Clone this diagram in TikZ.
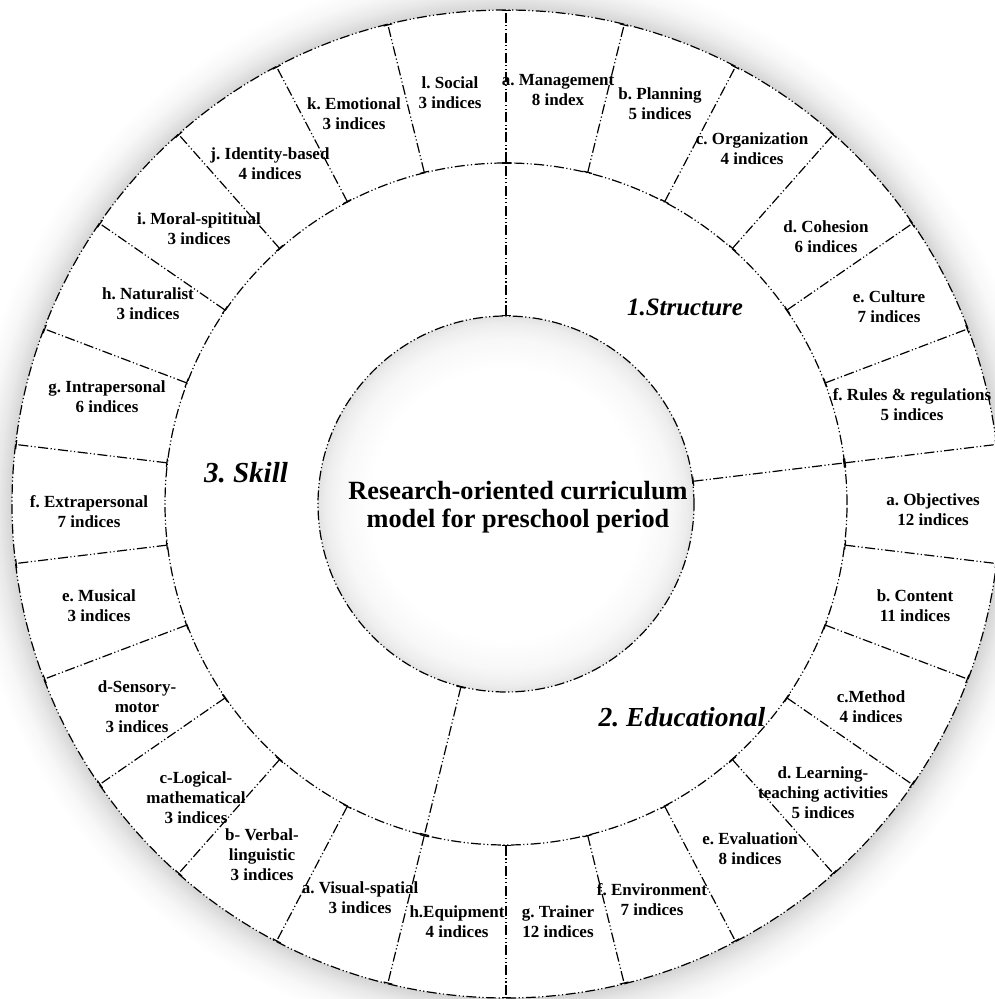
\documentclass[tikz,border=0pt]{standalone}
\usepackage{fontspec}
\setmainfont{Liberation Serif}
\usetikzlibrary{arrows.meta}
\pgfdeclareradialshading{outerglow}{\pgfpointorigin}{color(0bp)=(black!17); color(22.9bp)=(black!17); color(23.5bp)=(black!9); color(24.2bp)=(black!3); color(25bp)=(white); color(50bp)=(white)}
\pgfdeclareradialshading{innerglow}{\pgfpointorigin}{color(0bp)=(white); color(18bp)=(white); color(22bp)=(black!3); color(24bp)=(black!7); color(25bp)=(black!11); color(50bp)=(black!11)}
\begin{document}
\frenchspacing
\begin{tikzpicture}[x=1pt,y=1pt,
  ddd/.style={line width=1.2pt, dash pattern=on 10pt off 2.5pt on 1.2pt off 2.5pt on 1.2pt off 2.5pt},
  sep/.style={ddd, {Bar[width=9pt,line width=1.2pt]}-{Bar[width=9pt,line width=1.2pt]}},
  lab/.style={font=\bfseries\fontsize{17}{20}\selectfont, align=center, inner sep=0pt},
  ttl/.style={font=\bfseries\itshape\fontsize{#1}{#1}\selectfont, inner sep=0pt},
  ctr/.style={font=\bfseries\fontsize{26.3}{28.5}\selectfont, align=center, inner sep=0pt}
]
\useasboundingbox (0,0) rectangle (995,999);
\clip (0,0) rectangle (995,999);
\begin{scope}[shift={(506,495)}]
  \coordinate (C) at (0,0);
  \shade[shading=outerglow] (C) circle (539);
  \fill[white] (C) circle (494);
  \shade[shading=innerglow] (C) circle (188);
  \draw[ddd] (C) circle (494);
  \draw[ddd] (C) circle (341);
  \draw[ddd] (C) circle (188);
  \foreach \k in {0,...,25} {
    \pgfmathsetmacro\a{90-\k*360/26}
    \coordinate (m\k) at (\a:341);
    \coordinate (o\k) at (\a:494);
    \draw[sep] (m\k) -- (o\k);
  }
  \foreach \k in {0,6,14} {
    \pgfmathsetmacro\a{90-\k*360/26}
    \coordinate (i\k) at (\a:188);
    \draw[sep] (i\k) -- (m\k);
  }
\end{scope}
% center
\node[ctr] (center) at (518,492) {Research-oriented curriculum\\model for preschool period};
% titles
\node[ttl=25] (t1) at (685,692) {1.Structure};
\node[ttl=27.5] (t2) at (682,282) {2. Educational};
\node[ttl=29] (t3) at (246,526) {3. Skill};
% structure
\node[lab] (sa) at (558,909) {a. Management\\8 index};
\node[lab] (sb) at (660,895) {b. Planning\\5 indices};
\node[lab] (sc) at (752,850) {c. Organization\\4 indices};
\node[lab] (sd) at (826,762) {d. Cohesion\\6 indices};
\node[lab] (se) at (889,692) {e. Culture\\7 indices};
\node[lab] (sf) at (912,594) {f. Rules \& regulations\\5 indices};
% educational
\node[lab] (ea) at (933,489) {a. Objectives\\12 indices};
\node[lab] (eb) at (915,393) {b. Content\\11 indices};
\node[lab] (ec) at (871,292) {c.Method\\4 indices};
\node[lab] (ed) at (823,206) {d. Learning-\\teaching activities\\5 indices};
\node[lab] (ee) at (750,150) {e. Evaluation\\8 indices};
\node[lab] (ef) at (652,99) {f. Environment\\7 indices};
\node[lab] (eg) at (558,77) {g. Trainer\\12 indices};
\node[lab] (eh) at (457,77) {h.Equipment\\4 indices};
% skill
\node[lab] (ka) at (360,101) {a. Visual-spatial\\3 indices};
\node[lab] (kb) at (262,144) {b- Verbal-\\linguistic\\3 indices};
\node[lab] (kc) at (196,201) {c-Logical-\\mathematical\\3 indices};
\node[lab] (kd) at (137,292) {d-Sensory-\\motor\\3 indices};
\node[lab] (ke) at (99,393) {e. Musical\\3 indices};
\node[lab] (kf) at (89,487) {f. Extrapersonal\\7 indices};
\node[lab] (kg) at (107,602) {g. Intrapersonal\\6 indices};
\node[lab] (kh) at (148,695) {h. Naturalist\\3 indices};
\node[lab] (ki) at (199,770) {i. Moral-spititual\\3 indices};
\node[lab] (kj) at (270,835) {j. Identity-based\\4 indices};
\node[lab] (kk) at (354,885) {k. Emotional\\3 indices};
\node[lab] (kl) at (450,906) {l. Social\\3 indices};
\end{tikzpicture}
\end{document}
